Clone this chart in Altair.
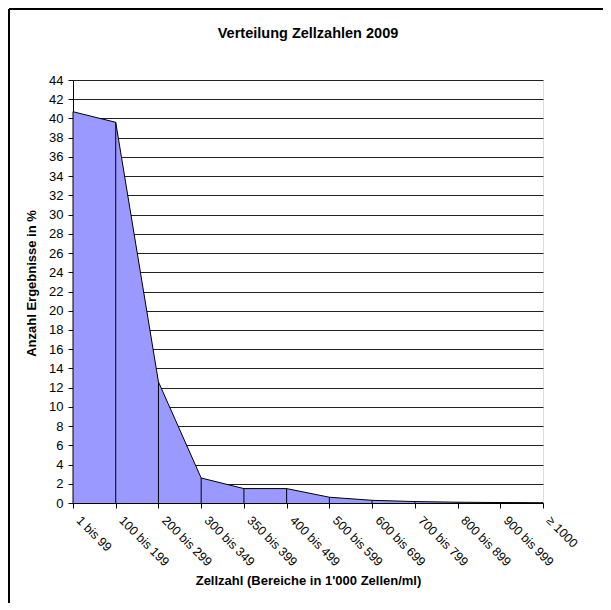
import altair as alt
import pandas as pd

categories = ["1 bis 99", "100 bis 199", "200 bis 299", "300 bis 349", "350 bis 399",
              "400 bis 499", "500 bis 599", "600 bis 699", "700 bis 799", "800 bis 899",
              "900 bis 999", "≥ 1000"]
values = [40.7, 39.6, 12.6, 2.6, 1.5, 1.5, 0.6, 0.28, 0.15, 0.08, 0.05, 0.03]
y_ticks = list(range(0, 45, 2))

df = pd.DataFrame({"cat": categories, "val": values})

FONT = "Liberation Sans"

x_enc = alt.X(
    "cat:N", sort=categories,
    scale=alt.Scale(type="point", padding=0),
    axis=alt.Axis(
        title="Zellzahl (Bereiche in 1'000 Zellen/ml)",
        labelAngle=45, labelAlign="left", labelBaseline="middle",
        labelPadding=10, labelOffset=5, tickSize=5,
        domainColor="black", tickColor="black", labelColor="black",
        labelFont=FONT, labelFontSize=12.5, labelOverlap=False,
        titleFont=FONT, titleFontSize=13, titleFontWeight="bold", titleColor="black",
        titleY=71, grid=False,
    ),
)
y_enc = alt.Y(
    "val:Q",
    scale=alt.Scale(domain=[0, 44], nice=False),
    axis=alt.Axis(
        title="Anzahl Ergebnisse in %", values=y_ticks,
        tickSize=5, labelPadding=5, labelOverlap=False,
        grid=True, gridColor="#222222", gridWidth=1,
        domainColor="black", tickColor="black", labelColor="black",
        labelFont=FONT, labelFontSize=13,
        titleFont=FONT, titleFontSize=13, titleFontWeight="bold", titleColor="black",
        titleX=-35, titleY=203,
    ),
)

area = alt.Chart(df).mark_area(
    color="#9999FF", opacity=1,
    line={"color": "black", "strokeWidth": 1},
).encode(x=x_enc, y=y_enc)

drops = alt.Chart(df).mark_rule(color="black", strokeWidth=1).encode(
    x=x_enc, y=y_enc, y2=alt.datum(0)
)

frame_left = alt.Chart(df).mark_rule(color="black", strokeWidth=1.5).encode(
    x=alt.value(-64), y=alt.value(-71), y2=alt.value(540)
)
frame_top = alt.Chart(df).mark_rule(color="black", strokeWidth=1.5).encode(
    x=alt.value(-64), x2=alt.value(540), y=alt.value(-71)
)

chart = alt.layer(area, drops, frame_left, frame_top).properties(
    width=470, height=423,
    title=alt.TitleParams(
        "Verteilung Zellzahlen 2009", font=FONT, fontSize=14.5, fontWeight="bold",
        color="black", anchor="middle", offset=-33,
    ),
    autosize="none",
    padding={"left": 65, "top": 72, "right": 60, "bottom": 100},
).configure_view(stroke="#808080", strokeWidth=1).configure(background="white")

chart.save("out.html", embed_options={"renderer": "svg", "actions": False})
